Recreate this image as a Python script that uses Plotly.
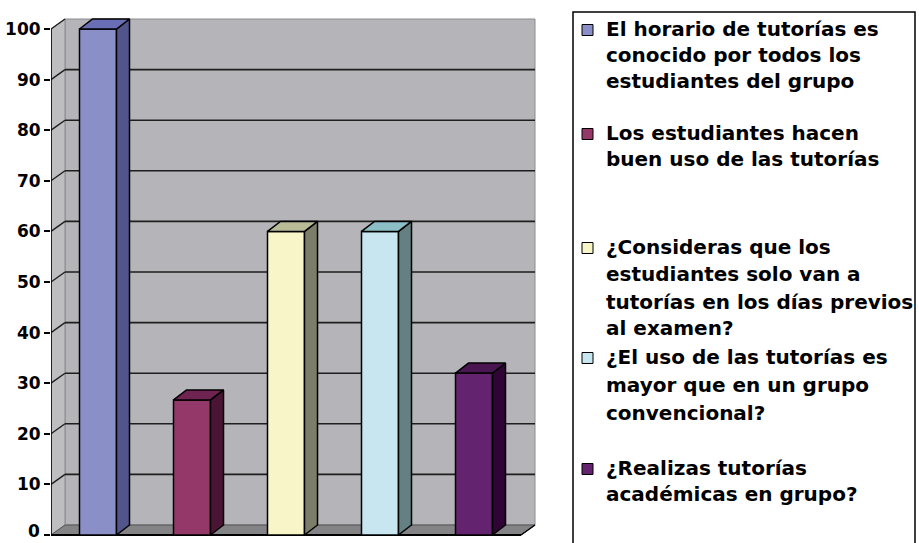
import plotly.graph_objects as go

# ---- data ----
categories = [
    "El horario de tutorías es conocido por todos los estudiantes del grupo",
    "Los estudiantes hacen buen uso de las tutorías",
    "¿Consideras que los estudiantes solo van a tutorías en los días previos al examen?",
    "¿El uso de las tutorías es mayor que en un grupo convencional?",
    "¿Realizas tutorías académicas en grupo?",
]
values = [100, 26.7, 60, 60, 32]
tick_values = [0, 10, 20, 30, 40, 50, 60, 70, 80, 90, 100]
legend_lines = [
    ["El horario de tutorías es", "conocido por todos los", "estudiantes del grupo"],
    ["Los estudiantes hacen", "buen uso de las tutorías"],
    ["¿Consideras que los", "estudiantes solo van a", "tutorías en los días previos", "al examen?"],
    ["¿El uso de las tutorías es", "mayor que en un grupo", "convencional?"],
    ["¿Realizas tutorías", "académicas en grupo?"],
]

# ---- styles ----
front_colors = ["#8b8fc8", "#94386a", "#f8f6c8", "#c8e6f0", "#64236e"]
side_colors = ["#52558c", "#4a1434", "#7c7e6a", "#648082", "#2e0534"]
top_colors = ["#6a6eb4", "#6e2350", "#b9ba96", "#8cbec6", "#4a1652"]

W, H = 919, 543
PX_X = 94.0            # pixels per category unit
PX_Y = 5.06            # pixels per value unit
X0_PX = 51             # front-left corner of plot
Y0_PX = 535            # value 0 pixel row
bar_w = 37 / PX_X
bar_dx = 13 / PX_X
wall_dx = 14 / PX_X
depth_dy = 10 / PX_Y
x_lo, x_hi = -0.5, 4.5
y_top = 100

fig = go.Figure()

x_pos = list(range(len(values)))
fig.add_trace(go.Bar(
    x=x_pos, y=values, width=bar_w,
    marker=dict(color=front_colors, line=dict(color="black", width=1.5)),
    hoverinfo="skip", showlegend=False,
))

# side and top faces of the 3D bars
for i, v in enumerate(values):
    xr = i + bar_w / 2
    xl = i - bar_w / 2
    fig.add_trace(go.Scatter(
        x=[xr, xr + bar_dx, xr + bar_dx, xr, xr],
        y=[0, depth_dy, v + depth_dy, v, 0],
        mode="lines", fill="toself", fillcolor=side_colors[i],
        line=dict(color="black", width=1.5), hoverinfo="skip", showlegend=False,
    ))
    fig.add_trace(go.Scatter(
        x=[xl, xl + bar_dx, xr + bar_dx, xr, xl],
        y=[v, v + depth_dy, v + depth_dy, v, v],
        mode="lines", fill="toself", fillcolor=top_colors[i],
        line=dict(color="black", width=1.5), hoverinfo="skip", showlegend=False,
    ))

shapes = []
# back wall
shapes.append(dict(type="rect", xref="x", yref="y", layer="below",
                   x0=x_lo + wall_dx, x1=x_hi + wall_dx, y0=depth_dy, y1=y_top + depth_dy,
                   fillcolor="#b4b4b9", line=dict(color="#8c8c8c", width=1)))
# left wall
shapes.append(dict(type="path", xref="x", yref="y", layer="below",
                   path=f"M {x_lo},0 L {x_lo + wall_dx},{depth_dy} L {x_lo + wall_dx},{y_top + depth_dy} L {x_lo},{y_top} Z",
                   fillcolor="#bebec1", line=dict(color="#8c8c8c", width=1)))
# floor
shapes.append(dict(type="path", xref="x", yref="y", layer="below",
                   path=f"M {x_lo},0 L {x_hi},0 L {x_hi + wall_dx},{depth_dy} L {x_lo + wall_dx},{depth_dy} Z",
                   fillcolor="#848487", line=dict(color="#555555", width=1)))
# gridlines
for t in tick_values[1:-1]:
    shapes.append(dict(type="line", xref="x", yref="y", layer="below",
                       x0=x_lo + wall_dx, x1=x_hi + wall_dx, y0=t + depth_dy, y1=t + depth_dy,
                       line=dict(color="#1e1e1e", width=1.6)))
for t in tick_values[1:]:
    shapes.append(dict(type="line", xref="x", yref="y", layer="below",
                       x0=x_lo, x1=x_lo + wall_dx, y0=t, y1=t + depth_dy,
                       line=dict(color="#1e1e1e", width=1.4)))
# axis lines
shapes.append(dict(type="line", xref="x", yref="y", layer="below",
                   x0=x_lo, x1=x_lo, y0=0, y1=y_top, line=dict(color="black", width=1.6)))
shapes.append(dict(type="line", xref="x", yref="y", layer="below",
                   x0=x_lo, x1=x_hi, y0=0, y1=0, line=dict(color="black", width=1.8)))
shapes.append(dict(type="line", xref="x", yref="y", layer="below",
                   x0=x_hi, x1=x_hi + wall_dx, y0=0, y1=depth_dy, line=dict(color="black", width=1.4)))

# legend box
def px(x):
    return x / W

def py(y):
    return 1 - y / H

shapes.append(dict(type="rect", xref="paper", yref="paper", layer="above",
                   x0=px(573), x1=px(915), y0=py(560), y1=py(12),
                   fillcolor="rgba(0,0,0,0)", line=dict(color="black", width=1.5)))

line_centers = [
    [29, 55, 81],
    [133, 159],
    [247, 274, 302, 328],
    [357, 385, 413],
    [468, 494],
]
tick_font = dict(family="DejaVu Sans", size=17, color="black", weight="bold")
annotations = []
for i, (lines, ys) in enumerate(zip(legend_lines, line_centers)):
    yc = ys[0] + 1
    shapes.append(dict(type="rect", xref="paper", yref="paper", layer="above",
                       x0=px(582), x1=px(593), y0=py(yc + 5.5), y1=py(yc - 5.5),
                       fillcolor=front_colors[i], line=dict(color="black", width=1)))
    for txt, y in zip(lines, ys):
        annotations.append(dict(xref="paper", yref="paper", x=px(604), y=py(y),
                                xanchor="left", yanchor="middle", showarrow=False,
                                text=txt,
                                font=dict(family="DejaVu Sans", size=20, color="black", weight="bold")))

# the "0" label sits at the very bottom edge; place it as an annotation nudged up slightly
tick_text = ["" if t == 0 else str(t) for t in tick_values]
annotations.append(dict(xref="paper", yref="y", x=px(42), y=tick_values[0] + 0.5,
                        xanchor="right", yanchor="middle", showarrow=False,
                        text=str(tick_values[0]), font=tick_font, yshift=1))

plot_w = W - X0_PX
fig.update_layout(
    width=W, height=H,
    margin=dict(l=0, r=0, t=0, b=0),
    paper_bgcolor="white", plot_bgcolor="white",
    showlegend=False,
    shapes=shapes, annotations=annotations,
    xaxis=dict(domain=[X0_PX / W, 1], range=[x_lo, x_lo + plot_w / PX_X],
               showgrid=False, zeroline=False, showline=False, showticklabels=False,
               ticks="", fixedrange=True, automargin=False),
    yaxis=dict(domain=[0, 1], range=[-(H - Y0_PX) / PX_Y, Y0_PX / PX_Y],
               tickvals=tick_values, ticktext=tick_text,
               ticks="outside", ticklen=6, tickwidth=1.5,
               tickcolor="black", showgrid=False, zeroline=False, showline=False,
               tickfont=tick_font,
               automargin=False, fixedrange=True),
)

fig.write_html("out.html")
